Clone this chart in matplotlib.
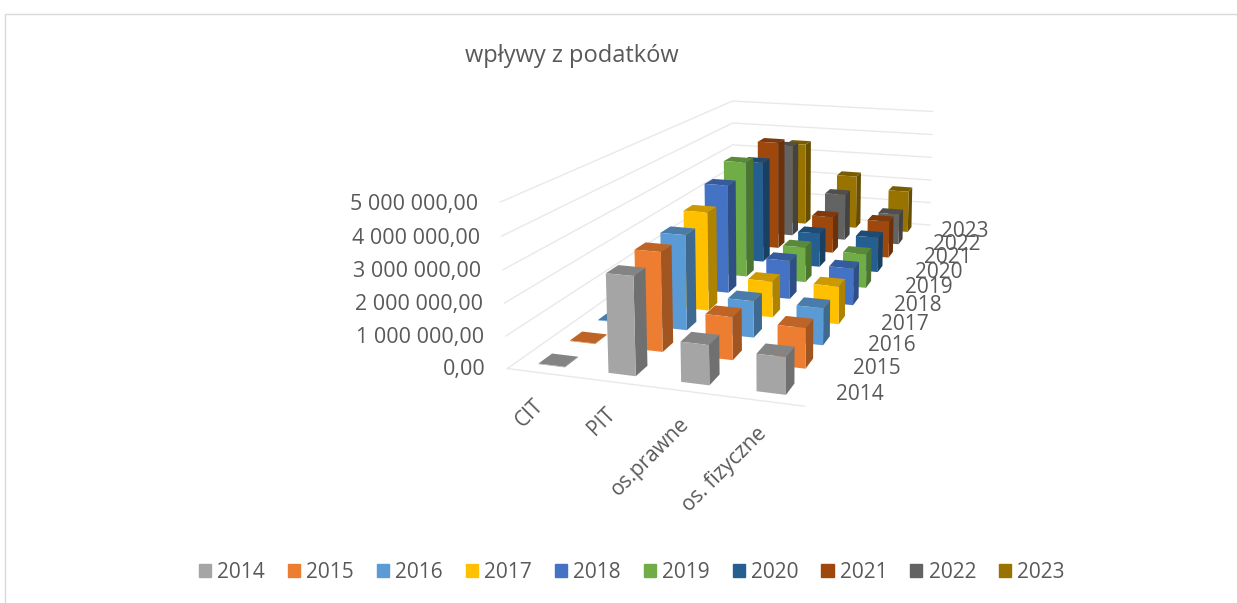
"""Excel style 3D column chart of tax income."""

import matplotlib

matplotlib.use("Agg")
import matplotlib.pyplot as plt
import numpy as np
from matplotlib.lines import Line2D
from matplotlib.patches import Patch

plt.rcParams["font.family"] = ["Open Sans", "DejaVu Sans"]

years = [2014, 2015, 2016, 2017, 2018, 2019, 2020, 2021, 2022, 2023]
categories = ["CIT", "PIT", "os.prawne", "os. fizyczne"]
z_ticks = [0, 1000000, 2000000, 3000000, 4000000, 5000000]
z_tick_labels = ["0,00", "1 000 000,00", "2 000 000,00", "3 000 000,00", "4 000 000,00", "5 000 000,00"]

cit = [20000, 20000, 20000, 20000, 20000, 20000, 20000, 20000, 20000, 20000]
pit = [3000000, 3150000, 3150000, 3400000, 3880000, 4300000, 3900000, 4300000, 3800000, 3500000]
os_prawne = [1200000, 1350000, 1200000, 1230000, 1370000, 1300000, 1300000, 1450000, 1900000, 2250000]
os_fizyczne = [1100000, 1250000, 1200000, 1280000, 1300000, 1250000, 1330000, 1450000, 1250000, 1750000]
series = [cit, pit, os_prawne, os_fizyczne]

colors = ["#a5a5a5", "#ed7d31", "#5b9bd5", "#ffc000", "#4472c4",
          "#70ad47", "#255e91", "#9e480e", "#636363", "#997300"]

TEXT = "#595959"
GRID = "#e9e9e9"
W, H = 1237, 603
BAR_W, BAR_D = 0.38, 0.42

# box corners (x, y, z as fractions) and where they sit in the image, the
# camera of the 3D chart is solved from these
box_pts = [(0, 0, 0), (1, 0, 0), (1, 1, 0), (0, 1, 0), (0, 0, 1), (0, 1, 1), (1, 1, 1)]
img_pts = [(507, 367), (805, 407), (930, 224), (733, 211), (500, 203), (733, 100), (932, 112)]


def solve_camera():
    rows, rhs = [], []
    for (x, y, z), (u, v) in zip(box_pts, img_pts):
        rows.append([x, y, z, 1, 0, 0, 0, 0, -u * x, -u * y, -u * z])
        rhs.append(u)
        rows.append([0, 0, 0, 0, x, y, z, 1, -v * x, -v * y, -v * z])
        rhs.append(v)
    p = np.linalg.lstsq(np.array(rows, float), np.array(rhs, float), rcond=None)[0]
    cam = np.append(p, 1.0).reshape(3, 4)
    return cam @ np.diag([1 / len(categories), 1 / len(years), 1 / z_ticks[-1], 1])


def label(x, y, z, text, dx=0, dy=0, **kwargs):
    # 3D text ignores rotation and has no pixel offset, so labels go on the figure
    px = cam @ np.array([x, y, z, 1.0])
    px = px[:2] / px[2]
    fig.text((px[0] + dx) / W, 1 - (px[1] + dy) / H, text, color=TEXT, **kwargs)


fig = plt.figure(figsize=(W / 100, H / 100), dpi=100, facecolor="white")
ax = fig.add_axes([0, 0, 1, 1], projection="3d")
ax.set_axis_off()
ax.computed_zorder = False
ax.apply_aspect()

# image pixels -> the 2D view coordinates of the 3D axes
cam = solve_camera()
flip = np.array([[1, 0, 0], [0, -1, H], [0, 0, 1.0]])
to_view = ax.transData.inverted().get_matrix() @ flip @ cam
M = np.vstack([to_view[0], to_view[1], [0, 0, 0, -1], to_view[2]])
ax.get_proj = lambda: M

n_cat, n_year = len(categories), len(years)

for v in z_ticks:
    ax.plot([0, 0, n_cat], [0, n_year, n_year], [v, v, v], color=GRID, lw=1, zorder=0, clip_on=False)
ax.plot([0, n_cat], [0, 0], [0, 0], color=GRID, lw=1, zorder=0, clip_on=False)

none = (0, 0, 0, 0)
order = 1
for j in range(n_year - 1, -1, -1):
    for i in range(n_cat):
        base = np.array(matplotlib.colors.to_rgb(colors[j]))
        faces = [none, tuple(base * 0.8), tuple(base), none, none, tuple(base * 0.68)]
        bars = ax.bar3d(i + 0.5 - BAR_W / 2, j + 0.5 - BAR_D / 2, 0, BAR_W, BAR_D, series[i][j],
                        color=faces, shade=False, zorder=order)
        bars.set_clip_on(False)
        order += 1

for v, name in zip(z_ticks, z_tick_labels):
    label(-0.31, 0, v, name, dy=4, ha="right", va="center", fontsize=15.5)
for j, year in enumerate(years):
    label(n_cat + 0.28, j + 0.5, 0, str(year), ha="left", va="center", fontsize=15)
for i, name in enumerate(categories):
    label(i + 0.5, 0, 0, name, dx=-9, dy=22, ha="right", va="top", rotation=45,
          rotation_mode="anchor", fontsize=15)

fig.text(572 / W, 1 - 56 / H, "wpływy z podatków", ha="center", va="center", fontsize=17, color=TEXT)

handles = [Patch(color=c, label=str(y)) for c, y in zip(colors, years)]
fig.legend(handles=handles, loc="center", bbox_to_anchor=(632 / W, 1 - 572 / H), ncol=len(years),
           frameon=False, fontsize=15, labelcolor=TEXT, handlelength=0.58, handleheight=0.58,
           handletextpad=0.3, columnspacing=1.1)

# card border of the screenshot
fig.add_artist(Line2D([5 / W, 5 / W, 1], [0, 1 - 14 / H, 1 - 14 / H], color="#d9d9d9", lw=1))

fig.savefig("out.png", dpi=100)
